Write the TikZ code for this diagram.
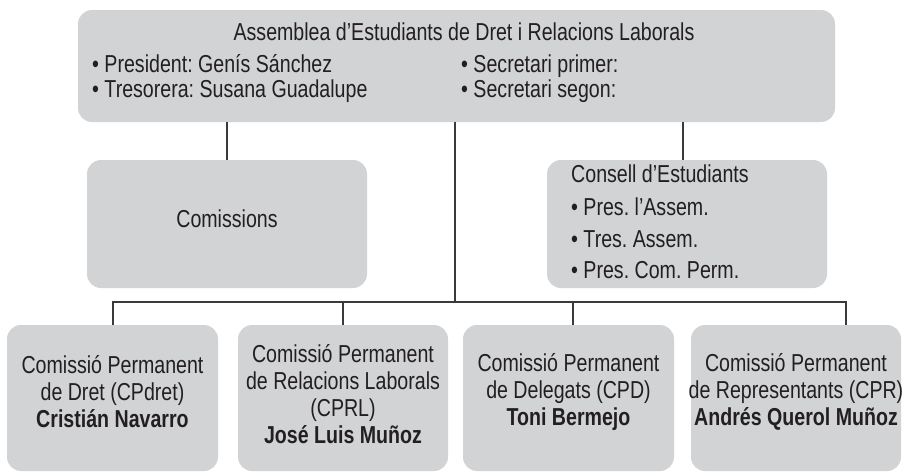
\documentclass[tikz,border=0pt]{standalone}
\usepackage{fontspec}
\setmainfont{Liberation Sans}[FakeStretch=0.80]
\frenchspacing
\definecolor{boxgray}{HTML}{D1D3D4}
\definecolor{ink}{HTML}{231F20}
\definecolor{linegray}{HTML}{3A3A3A}
\begin{document}
\begin{tikzpicture}[x=1pt,y=-1pt,
  box/.style={fill=boxgray, rounded corners=14pt, inner sep=0pt},
  conn/.style={draw=linegray, line width=1.3pt},
  lbl/.style={text=ink, inner sep=0pt, font=\fontsize{24.5}{25}\selectfont},
  ltxt/.style={lbl, anchor=base west},
  ctxt/.style={lbl, align=center, font=\fontsize{24.5}{27}\selectfont}]
\useasboundingbox (0,0) rectangle (907,472);
% boxes
\node[box, minimum width=757pt, minimum height=112pt] (top) at (456.5,66) {};
\node[box, minimum width=280pt, minimum height=128pt] (com) at (227,224) {};
\node[box, minimum width=280pt, minimum height=128pt] (cons) at (687,224) {};
\node[box, minimum width=211pt, minimum height=146pt] (b1) at (112.5,398) {};
\node[box, minimum width=210pt, minimum height=146pt] (b2) at (343,398) {};
\node[box, minimum width=211pt, minimum height=146pt] (b3) at (568.5,398) {};
\node[box, minimum width=210pt, minimum height=146pt] (b4) at (796,398) {};
% texts
\node[lbl, anchor=base] (ttitle) at (464,40) {Assemblea d’Estudiants de Dret i Relacions Laborals};
\node[ltxt] (tp) at (92,72) {• President: Genís Sánchez};
\node[ltxt] (tt) at (92,97) {• Tresorera: Susana Guadalupe};
\node[ltxt] (ts1) at (461,72) {• Secretari primer:};
\node[ltxt] (ts2) at (461,97) {• Secretari segon:};
\node[lbl, anchor=base] (tcom) at (227,227) {Comissions};
\node[ltxt] (tc0) at (571,182) {Consell d’Estudiants};
\node[ltxt] (tc1) at (571,215) {• Pres. l’Assem.};
\node[ltxt] (tc2) at (571,247) {• Tres. Assem.};
\node[ltxt] (tc3) at (571,278) {• Pres. Com. Perm.};
\node[ctxt] (t1) at (112.5,392) {Comissió Permanent\\de Dret (CPdret)\\\textbf{Cristián Navarro}};
\node[ctxt] (t2) at (343,394) {Comissió Permanent\\de Relacions Laborals\\(CPRL)\\\textbf{José Luis Muñoz}};
\node[ctxt] (t3) at (568.5,392) {Comissió Permanent\\de Delegats (CPD)\\\textbf{Toni Bermejo}};
\node[ctxt] (t4) at (796,392) {Comissió Permanent\\de Representants (CPR)\\\textbf{Andrés Querol Muñoz}};
% connector points
\coordinate (bus) at (455,302);
\coordinate (busL) at (113,302);
\coordinate (busR) at (846,302);
\coordinate (d3) at (573,302);
\draw[conn] (top.south -| com.north) -- (com.north);
\draw[conn] (top.south -| 683,0) -- (cons.north -| 683,0);
\draw[conn] (top.south -| bus) -- (bus);
\draw[conn] (busL |- b1.north) -- (busL) -- (busR) -- (busR |- b4.north);
\draw[conn] (b2.north) -- (b2.north |- bus);
\draw[conn] (d3) -- (d3 |- b3.north);
\end{tikzpicture}
\end{document}
